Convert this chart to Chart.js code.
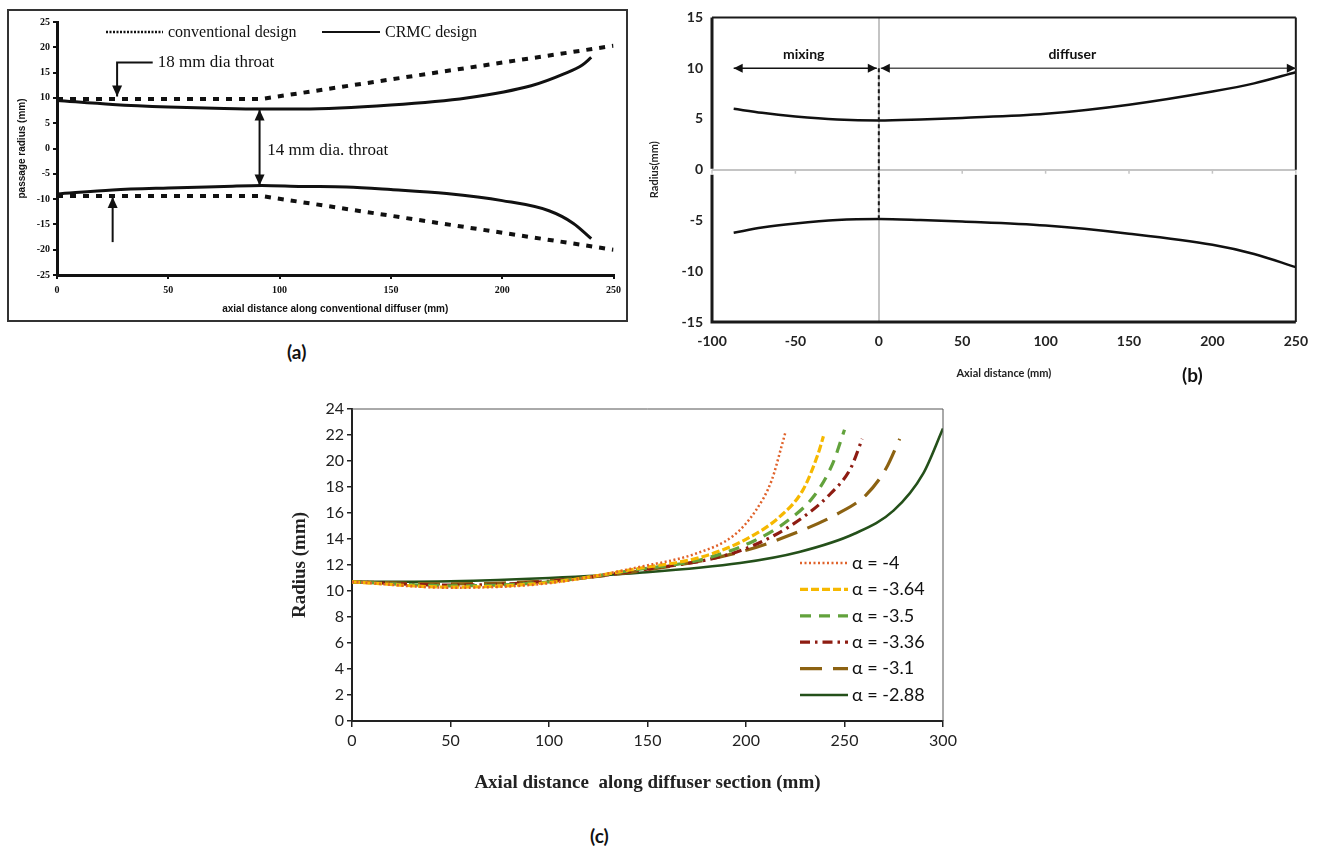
<!DOCTYPE html>
<html>
<head>
<meta charset="utf-8">
<script src="https://cdn.jsdelivr.net/npm/chart.js@4.4.0/dist/chart.umd.min.js"></script>
<style>
  body { margin: 0; background: #fff; width: 1319px; height: 850px; position: relative; overflow: hidden; }
  .box { position: absolute; }
  #wrapA { left: 7px; top: 9px; width: 617px; height: 309px; border: 2px solid #333; }
  canvas { display: block; }
  .lbl { position: absolute; font-family: Lato, sans-serif; font-weight: bold; font-size: 19px; color: #111; }
</style>
</head>
<body>
<div id="wrapA" class="box"><canvas id="chartA" width="617" height="309"></canvas></div>
<div class="box" style="left:640px;top:0"><canvas id="chartB" width="679" height="390"></canvas></div>
<div class="box" style="left:280px;top:395px"><canvas id="chartC" width="700" height="415"></canvas></div>
<div class="lbl" style="left:287px;top:340px">(a)</div>
<div class="lbl" style="left:1182px;top:363px">(b)</div>
<div class="lbl" style="left:590px;top:824px">(c)</div>

<script>
// ---- chart (a): conventional vs CRMC diffuser profile ----
const convX = [0, 92, 250];
const convUpper = [9.8, 9.8, 20.3];
const convLower = [-9.4, -9.4, -20];
const crmcUpperX = [0, 25, 50, 75, 92, 110, 150, 184, 213, 228, 236, 240];
const crmcUpper = [9.5, 8.7, 8.2, 7.9, 7.8, 7.8, 8.6, 10.0, 12.4, 14.8, 16.5, 18.0];
const crmcLowerX = [0, 25, 50, 75, 92, 110, 130, 150, 175, 200, 221, 232, 240];
const crmcLower = [-9.0, -8.2, -7.8, -7.5, -7.3, -7.5, -7.6, -8.1, -8.9, -10.3, -12.3, -14.8, -17.8];
// arrows in (a), data coords
const throat18Path = [[43, 17], [27, 17], [27, 10.3]];
const throat14Arrow = [[91, 7.7], [91, -7.3]];
const lowerArrow = [[25, -18.5], [25, -9.6]];

// ---- chart (b): mixing + diffuser ----
const bX = [-87, -70, -50, -25, 0, 25, 50, 100, 150, 200, 225, 250];
const bUpper = [6.0, 5.6, 5.25, 4.95, 4.85, 4.95, 5.1, 5.5, 6.4, 7.7, 8.5, 9.6];
const bLower = [-6.2, -5.7, -5.3, -4.95, -4.85, -4.95, -5.1, -5.5, -6.3, -7.4, -8.3, -9.6];
const mixingRange = [-87, 0];
const diffuserRange = [0, 250];

// ---- chart (c): alpha variants ----
const alphaLabels = ["α = -4", "α = -3.64", "α = -3.5", "α = -3.36", "α = -3.1", "α = -2.88"];
const a40X = [0, 50, 100, 146, 175, 194, 205, 213, 218, 220];
const a40Y = [10.7, 10.25, 10.6, 11.85, 12.9, 14.3, 16.2, 18.5, 21.1, 22.2];
const a364X = [0, 50, 100, 146, 177, 199, 217, 229, 236.7, 239.3];
const a364Y = [10.7, 10.3, 10.65, 11.75, 12.6, 13.9, 15.7, 17.8, 20.6, 21.9];
const a35X = [0, 50, 100, 146, 177, 204, 222, 235, 244, 250];
const a35Y = [10.7, 10.4, 10.7, 11.67, 12.4, 13.85, 15.5, 17.4, 19.8, 22.4];
const a336X = [0, 50, 100, 146, 192, 214, 231, 243, 253, 259];
const a336Y = [10.7, 10.45, 10.75, 11.6, 12.85, 14.25, 15.9, 17.5, 19.4, 21.7];
const a31X = [0, 50, 100, 146, 197, 224, 246, 261, 271, 278];
const a31Y = [10.7, 10.55, 10.8, 11.54, 13.0, 14.4, 15.9, 17.4, 19.4, 21.7];
const a288X = [0, 50, 100, 146, 197, 227, 255, 275, 290, 300];
const a288Y = [10.7, 10.75, 11.0, 11.4, 12.15, 13.0, 14.4, 16.2, 19.05, 22.5];

function pts(xs, ys) {
  return xs.map((x, i) => ({ x: x, y: ys[i] }));
}

function arrowHead(ctx, fx, fy, tx, ty, len, half) {
  const a = Math.atan2(ty - fy, tx - fx);
  const bx = tx - len * Math.cos(a), by = ty - len * Math.sin(a);
  ctx.beginPath();
  ctx.moveTo(tx, ty);
  ctx.lineTo(bx + half * Math.sin(a), by - half * Math.cos(a));
  ctx.lineTo(bx - half * Math.sin(a), by + half * Math.cos(a));
  ctx.closePath();
  ctx.fill();
}

function arrowLine(ctx, p, headStart, headEnd, len, half) {
  ctx.beginPath();
  ctx.moveTo(p[0][0], p[0][1]);
  for (let i = 1; i < p.length; i++) ctx.lineTo(p[i][0], p[i][1]);
  ctx.stroke();
  const n = p.length;
  if (headEnd) arrowHead(ctx, p[n - 2][0], p[n - 2][1], p[n - 1][0], p[n - 1][1], len, half);
  if (headStart) arrowHead(ctx, p[1][0], p[1][1], p[0][0], p[0][1], len, half);
}

const base = {
  responsive: false,
  animation: false,
  elements: { point: { radius: 0 }, line: { tension: 0 } },
  plugins: { legend: { display: false }, tooltip: { enabled: false } },
};

// ---------------- (a) ----------------
const serifBold10 = { family: "Liberation Serif", weight: "bold", size: 10 };
const annotA = {
  id: "annotA",
  afterDraw(chart) {
    const { ctx, scales: { x, y } } = chart;
    const px = (p) => [x.getPixelForValue(p[0]), y.getPixelForValue(p[1])];
    ctx.save();
    ctx.strokeStyle = "#111";
    ctx.fillStyle = "#111";
    ctx.lineWidth = 2;
    arrowLine(ctx, throat18Path.map(px), false, true, 11, 5);
    arrowLine(ctx, throat14Arrow.map(px), true, true, 11, 5);
    arrowLine(ctx, lowerArrow.map(px), false, true, 11, 5);

    ctx.font = '17px "Liberation Serif"';
    ctx.textBaseline = "middle";
    const t18 = px(throat18Path[0]);
    ctx.fillText("18 mm dia throat", t18[0] + 5, t18[1]);
    const t14 = px([94.5, -0.4]);
    ctx.fillText("14 mm dia. throat", t14[0], t14[1]);

    // legend
    ctx.setLineDash([2, 1.5]);
    ctx.lineWidth = 2.5;
    ctx.beginPath(); ctx.moveTo(97, 21); ctx.lineTo(154, 21); ctx.stroke();
    ctx.setLineDash([]);
    ctx.lineWidth = 2;
    ctx.beginPath(); ctx.moveTo(313, 21); ctx.lineTo(371, 21); ctx.stroke();
    ctx.font = '16px "Liberation Serif"';
    ctx.fillText("conventional design", 159, 22);
    ctx.fillText("CRMC design", 376, 22);
    ctx.restore();
  },
};

new Chart(document.getElementById("chartA"), {
  type: "line",
  data: {
    datasets: [
      { data: pts(convX, convUpper), borderColor: "#111", borderWidth: 4, borderDash: [6, 7] },
      { data: pts(convX, convLower), borderColor: "#111", borderWidth: 4, borderDash: [6, 7] },
      { data: pts(crmcUpperX, crmcUpper), borderColor: "#111", borderWidth: 3, cubicInterpolationMode: "monotone" },
      { data: pts(crmcLowerX, crmcLower), borderColor: "#111", borderWidth: 3, cubicInterpolationMode: "monotone" },
    ],
  },
  options: {
    ...base,
    layout: { padding: { left: 0, top: 11, right: 11, bottom: 0 } },
    scales: {
      x: {
        type: "linear", min: 0, max: 250,
        afterFit: (s) => { s.height = 45; },
        ticks: { stepSize: 50, font: serifBold10, color: "#111", padding: 5 },
        grid: { drawOnChartArea: false, tickLength: 4, color: "#111", lineWidth: 2 },
        border: { color: "#111", width: 3 },
        title: {
          display: true, text: "axial distance along conventional diffuser (mm)",
          font: { family: "Liberation Sans", weight: "bold", size: 10 }, color: "#111",
          padding: { bottom: 5 },
        },
      },
      y: {
        min: -25, max: 25,
        afterFit: (s) => { s.width = 48; },
        ticks: { stepSize: 5, font: serifBold10, color: "#111", padding: 3 },
        grid: { drawOnChartArea: false, tickLength: 4, color: "#111", lineWidth: 2 },
        border: { color: "#111", width: 3 },
        title: {
          display: true, text: "passage radius (mm)",
          font: { family: "Liberation Sans", weight: "bold", size: 10 }, color: "#111",
          padding: { top: 7 },
        },
      },
    },
  },
  plugins: [annotA],
});

// ---------------- (b) ----------------
const latoBold14 = { family: "Lato", weight: "bold", size: 14 };
const zeroGrid = (c) => (c.tick.value === 0 ? "#c4c4c4" : "rgba(0,0,0,0)");
const annotB = {
  id: "annotB",
  afterDraw(chart) {
    const { ctx, chartArea: a, scales: { x, y } } = chart;
    const y0 = y.getPixelForValue(0);
    const x0 = x.getPixelForValue(0);
    ctx.save();
    // tick marks on the zero line
    ctx.strokeStyle = "#c4c4c4";
    ctx.lineWidth = 1.5;
    x.ticks.forEach((t) => {
      const xp = x.getPixelForValue(t.value);
      ctx.beginPath(); ctx.moveTo(xp, y0); ctx.lineTo(xp, y0 + 4); ctx.stroke();
    });
    // plot frame, broken near zero
    ctx.strokeStyle = "#1a1a1a";
    ctx.lineWidth = 2;
    ctx.beginPath();
    ctx.moveTo(a.left, a.top); ctx.lineTo(a.right, a.top);
    ctx.moveTo(a.right, a.top); ctx.lineTo(a.right, y0);
    ctx.moveTo(a.right, y0 + 5); ctx.lineTo(a.right, a.bottom);
    ctx.stroke();
    ctx.lineWidth = 3;
    ctx.beginPath();
    ctx.moveTo(a.left, a.top); ctx.lineTo(a.left, y0 - 1);
    ctx.moveTo(a.left, y0 + 5); ctx.lineTo(a.left, a.bottom);
    ctx.lineTo(a.right, a.bottom);
    ctx.stroke();
    // dashed divider at x = 0
    ctx.lineWidth = 2;
    ctx.setLineDash([4, 3]);
    ctx.beginPath();
    ctx.moveTo(x0, y.getPixelForValue(10)); ctx.lineTo(x0, y.getPixelForValue(-4.85));
    ctx.stroke();
    ctx.setLineDash([]);
    // section arrows
    const ya = y.getPixelForValue(10);
    ctx.fillStyle = "#111";
    ctx.strokeStyle = "#111";
    ctx.lineWidth = 1.5;
    arrowLine(ctx, [[x.getPixelForValue(mixingRange[0]), ya], [x.getPixelForValue(mixingRange[1]) - 2, ya]], true, true, 9, 4.5);
    ctx.strokeStyle = "#555";
    arrowLine(ctx, [[x.getPixelForValue(diffuserRange[0]) + 2, ya], [x.getPixelForValue(diffuserRange[1]), ya]], true, true, 9, 4.5);
    ctx.font = 'bold 14px Lato';
    ctx.textAlign = "center";
    ctx.textBaseline = "middle";
    ctx.fillText("mixing", x.getPixelForValue(-45), ya - 14);
    ctx.fillText("diffuser", x.getPixelForValue(116), ya - 14);
    ctx.restore();
  },
};

new Chart(document.getElementById("chartB"), {
  type: "line",
  data: {
    datasets: [
      { data: pts(bX, bUpper), borderColor: "#111", borderWidth: 2.5, cubicInterpolationMode: "monotone" },
      { data: pts(bX, bLower), borderColor: "#111", borderWidth: 2.5, cubicInterpolationMode: "monotone" },
    ],
  },
  options: {
    ...base,
    layout: { padding: { left: 0, top: 13, right: 22, bottom: 0 } },
    scales: {
      x: {
        type: "linear", min: -100, max: 250,
        afterFit: (s) => { s.height = 68; },
        ticks: { stepSize: 50, font: latoBold14, color: "#222", padding: 11 },
        grid: { color: zeroGrid, lineWidth: 2, drawTicks: false },
        border: { display: false },
        title: {
          display: true, text: "Axial distance (mm)",
          font: { family: "Lato", weight: "bold", size: 11 }, color: "#222",
          padding: { bottom: 10 },
        },
      },
      y: {
        min: -15, max: 15,
        afterFit: (s) => { s.width = 72; },
        ticks: { stepSize: 5, font: latoBold14, color: "#222", padding: 9 },
        grid: { color: zeroGrid, lineWidth: 2, drawTicks: false },
        border: { display: false },
        title: {
          display: true, text: "Radius(mm)", align: "center",
          font: { family: "Lato", weight: "bold", size: 11 }, color: "#222",
          padding: { top: 8 },
        },
      },
    },
  },
  plugins: [annotB],
});

// ---------------- (c) ----------------
const alphaColors = ["#e0622a", "#f6b800", "#62a23c", "#8e1c12", "#8c6212", "#24501a"];
const alphaDash = [[2, 2.5], [8, 3], [11, 8], [10, 5, 2.5, 5], [22, 11], []];
const alphaWidth = [2.5, 3.2, 3.2, 3.2, 3.2, 2.6];
const alphaSeries = [pts(a40X, a40Y), pts(a364X, a364Y), pts(a35X, a35Y), pts(a336X, a336Y), pts(a31X, a31Y), pts(a288X, a288Y)];

const legendC = {
  id: "legendC",
  afterDraw(chart) {
    const { ctx, chartArea: a } = chart;
    ctx.save();
    // thin top/right frame
    ctx.strokeStyle = "#555";
    ctx.lineWidth = 1;
    ctx.beginPath();
    ctx.moveTo(a.left, a.top); ctx.lineTo(a.right, a.top); ctx.lineTo(a.right, a.bottom);
    ctx.stroke();
    ctx.font = "18px Lato";
    ctx.textBaseline = "middle";
    ctx.fillStyle = "#111";
    chart.data.datasets.forEach((ds, i) => {
      const ly = 168 + i * 26.4;
      ctx.strokeStyle = ds.borderColor;
      ctx.lineWidth = ds.borderWidth;
      ctx.setLineDash(ds.borderDash || []);
      ctx.beginPath(); ctx.moveTo(520, ly); ctx.lineTo(568, ly); ctx.stroke();
      ctx.fillText(ds.label, 572, ly);
    });
    ctx.restore();
  },
};

new Chart(document.getElementById("chartC"), {
  type: "line",
  data: {
    datasets: alphaSeries.map((d, i) => ({
      label: alphaLabels[i],
      data: d,
      borderColor: alphaColors[i],
      borderWidth: alphaWidth[i],
      borderDash: alphaDash[i],
      cubicInterpolationMode: "monotone",
    })),
  },
  options: {
    ...base,
    layout: { padding: { left: 0, top: 14, right: 37, bottom: 0 } },
    scales: {
      x: {
        type: "linear", min: 0, max: 300,
        afterFit: (s) => { s.height = 89; },
        ticks: { stepSize: 50, font: { family: "Lato", size: 16 }, color: "#222", padding: 4 },
        grid: { drawOnChartArea: false, tickLength: 6, color: "#222", lineWidth: 1.5 },
        border: { color: "#222", width: 2 },
        title: {
          display: true, text: "Axial distance  along diffuser section (mm)",
          font: { family: "Liberation Serif", weight: "bold", size: 19 }, color: "#222",
          padding: { bottom: 16 },
        },
      },
      y: {
        min: 0, max: 24,
        afterFit: (s) => { s.width = 72; },
        ticks: { stepSize: 2, font: { family: "Lato", size: 16 }, color: "#222", padding: 3 },
        grid: { drawOnChartArea: false, tickLength: 5, color: "#222", lineWidth: 1.5 },
        border: { color: "#222", width: 2 },
        title: {
          display: true, text: "Radius (mm)",
          font: { family: "Liberation Serif", weight: "bold", size: 19 }, color: "#222",
          padding: { top: 9 },
        },
      },
    },
  },
  plugins: [legendC],
});
</script>
</body>
</html>
